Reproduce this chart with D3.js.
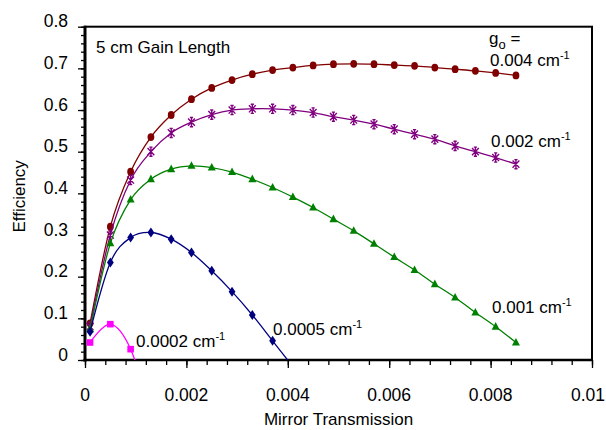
<!DOCTYPE html>
<html>
<head>
<meta charset="utf-8">
<script src="https://cdn.jsdelivr.net/npm/d3@7"></script>
<style>
  html, body { margin: 0; padding: 0; background: #fff; }
  svg { display: block; font-family: "Liberation Sans", Arial, sans-serif; }
</style>
</head>
<body>
<svg id="chart" width="606" height="430"></svg>
<script>
// Mirror transmission values shared by every gain curve (0.0001 .. 0.0085, step 0.0004)
const transmission = [0.0001, 0.0005, 0.0009, 0.0013, 0.0017, 0.0021, 0.0025, 0.0029,
  0.0033, 0.0037, 0.0041, 0.0045, 0.0049, 0.0053, 0.0057, 0.0061, 0.0065, 0.0069,
  0.0073, 0.0077, 0.0081, 0.0085];

// Efficiency for each small-signal gain g_o
const eff0004 = [0.088, 0.320, 0.452, 0.535, 0.588, 0.626, 0.653, 0.672, 0.686, 0.696,
  0.702, 0.707, 0.710, 0.711, 0.710, 0.708, 0.706, 0.702, 0.698, 0.694, 0.689, 0.683];
const eff0002 = [0.080, 0.300, 0.432, 0.500, 0.545, 0.571, 0.589, 0.600, 0.603, 0.603,
  0.600, 0.594, 0.584, 0.576, 0.566, 0.554, 0.542, 0.530, 0.514, 0.500, 0.486, 0.470];
const eff0001 = [0.074, 0.280, 0.385, 0.434, 0.458, 0.466, 0.462, 0.451, 0.434, 0.414,
  0.391, 0.366, 0.338, 0.310, 0.279, 0.247, 0.216, 0.182, 0.150, 0.114, 0.080, 0.042];
const eff00005 = [0.068, 0.234, 0.294, 0.306, 0.290, 0.258, 0.214, 0.164, 0.108, 0.046,
  -0.016];
const eff00002 = [0.042, 0.086, 0.026, -0.130];

const xTickLabels = ["0", "0.002", "0.004", "0.006", "0.008", "0.01"];
const yTickLabels = ["0", "0.1", "0.2", "0.3", "0.4", "0.5", "0.6", "0.7", "0.8"];

const seriesNames = ["0.004", "0.002", "0.001", "0.0005", "0.0002"];
const seriesValues = [eff0004, eff0002, eff0001, eff00005, eff00002];

// Presentation
const colors = ["#800000", "#800080", "#008000", "#000080", "#FF00FF"];
const markers = ["circle", "star", "triangle", "diamond", "square"];
const labelPos = [[490, 66], [491, 147], [492, 313], [273, 335], [136, 347]];

const W = 606;
const svg = d3.select("#chart");
const x = d3.scaleLinear().domain([0, 0.01]).range([85, 592]);
const y = d3.scaleLinear().domain([0, 0.8]).range([360, 26.7]);

svg.append("defs").append("clipPath").attr("id", "plotClip")
  .append("rect")
  .attr("x", x(0)).attr("y", y(0.8))
  .attr("width", x(0.01) - x(0)).attr("height", y(0) - y(0.8));

// Plot frame (top and right)
svg.append("rect")
  .attr("x", x(0)).attr("y", y(0.8))
  .attr("width", x(0.01) - x(0)).attr("height", y(0) - y(0.8))
  .attr("fill", "none").attr("stroke", "#000").attr("stroke-width", 2);

// Axes: major ticks with labels, minor ticks without
const xMajor = d3.range(0, 6).map(i => i * 0.002);
const xMinor = d3.range(0, 26).map(i => i * 0.0004);
const yMajor = d3.range(0, 9).map(i => i * 0.1);
const yMinor = d3.range(0, 41).map(i => i * 0.02);

svg.append("g").attr("transform", `translate(0,${y(0)})`)
  .call(d3.axisBottom(x).tickValues(xMinor).tickSize(5).tickFormat(""))
  .call(g => g.select(".domain").remove());
svg.append("g").attr("transform", `translate(0,${y(0)})`)
  .call(d3.axisBottom(x).tickValues(xMajor).tickSize(8).tickFormat(""))
  .call(g => g.select(".domain").remove());

svg.append("g").attr("transform", `translate(${x(0)},0)`)
  .call(d3.axisLeft(y).tickValues(yMinor).tickSize(4).tickFormat(""))
  .call(g => g.select(".domain").remove());
svg.append("g").attr("transform", `translate(${x(0)},0)`)
  .call(d3.axisLeft(y).tickValues(yMajor).tickSize(7).tickFormat(""))
  .call(g => g.select(".domain").remove());

svg.selectAll(".tick line").attr("stroke", "#000").attr("stroke-width", 1.3);

// Axis lines
svg.append("line").attr("x1", x(0)).attr("x2", x(0))
  .attr("y1", y(0.8) - 1).attr("y2", y(0) + 1.5)
  .attr("stroke", "#000").attr("stroke-width", 3);
svg.append("line").attr("x1", x(0) - 1.5).attr("x2", x(0.01) + 1)
  .attr("y1", y(0)).attr("y2", y(0))
  .attr("stroke", "#000").attr("stroke-width", 2.5);

// Tick labels (the last one is kept inside the page edge)
svg.append("g").selectAll("text").data(xMajor).join("text")
  .attr("y", 401)
  .attr("font-size", 17.5).attr("fill", "#000")
  .text((d, i) => xTickLabels[i])
  .attr("text-anchor", "middle")
  .attr("x", d => x(d))
  .each(function () {
    const bb = this.getBBox();
    if (bb.x + bb.width > W - 1) {
      d3.select(this).attr("x", +d3.select(this).attr("x") - (bb.x + bb.width - (W - 1)));
    }
  });
svg.append("g").selectAll("text").data(yMajor).join("text")
  .attr("x", 68).attr("y", d => y(d) + 0.5)
  .attr("text-anchor", "end").attr("font-size", 17.5).attr("fill", "#000")
  .text((d, i) => yTickLabels[i]);

// Axis titles
svg.append("text").attr("x", (x(0) + x(0.01)) / 2).attr("y", 425)
  .attr("text-anchor", "middle").attr("font-size", 17).text("Mirror Transmission");
svg.append("text")
  .attr("transform", `translate(25,${(y(0) + y(0.8)) / 2 + 3}) rotate(-90)`)
  .attr("text-anchor", "middle").attr("font-size", 17).text("Efficiency");

// Curves
const line = d3.line()
  .x((d, i) => x(transmission[i]))
  .y(d => y(d))
  .curve(d3.curveCardinal.tension(0));

const plot = svg.append("g").attr("clip-path", "url(#plotClip)");

function drawMarker(g, type, color) {
  if (type === "circle") {
    g.append("ellipse").attr("rx", 3.4).attr("ry", 3.9).attr("fill", color);
  } else if (type === "square") {
    g.append("rect").attr("x", -3.3).attr("y", -3.3).attr("width", 6.6).attr("height", 6.6)
      .attr("fill", color);
  } else if (type === "triangle") {
    g.append("path").attr("d", "M0,-4.6L4,3L-4,3Z").attr("fill", color);
  } else if (type === "diamond") {
    g.append("path").attr("d", "M0,-5L3.4,0L0,5L-3.4,0Z").attr("fill", color);
  } else if (type === "star") {
    g.append("path")
      .attr("d", "M-3.4,-3.6L3.4,3.6M3.4,-3.6L-3.4,3.6M0,-4.8L0,4.8M-1.6,-4.6L1.6,-4.6M-1.6,4.6L1.6,4.6")
      .attr("stroke", color).attr("stroke-width", 1.4).attr("fill", "none");
  }
}

seriesValues.forEach((vals, s) => {
  plot.append("path").datum(vals)
    .attr("d", line)
    .attr("fill", "none").attr("stroke", colors[s]).attr("stroke-width", 1.3);
  vals.forEach((v, i) => {
    if (v < 0) return;
    const g = plot.append("g").attr("transform", `translate(${x(transmission[i])},${y(v)})`);
    drawMarker(g, markers[s], colors[s]);
  });
});

// Series labels
seriesNames.forEach((name, s) => {
  const t = svg.append("text").attr("x", labelPos[s][0]).attr("y", labelPos[s][1])
    .attr("font-size", 17).attr("fill", "#000");
  t.append("tspan").text(name + " cm");
  t.append("tspan").attr("dy", -7).attr("font-size", 11).text("-1");
});

const g0 = svg.append("text").attr("x", 489).attr("y", 44).attr("font-size", 17);
g0.append("tspan").text("g");
g0.append("tspan").attr("dy", 5).attr("font-size", 13).text("o");
g0.append("tspan").attr("dy", -5).text(" =");

svg.append("text").attr("x", 96).attr("y", 53).attr("font-size", 17)
  .text("5 cm Gain Length");
</script>
</body>
</html>
